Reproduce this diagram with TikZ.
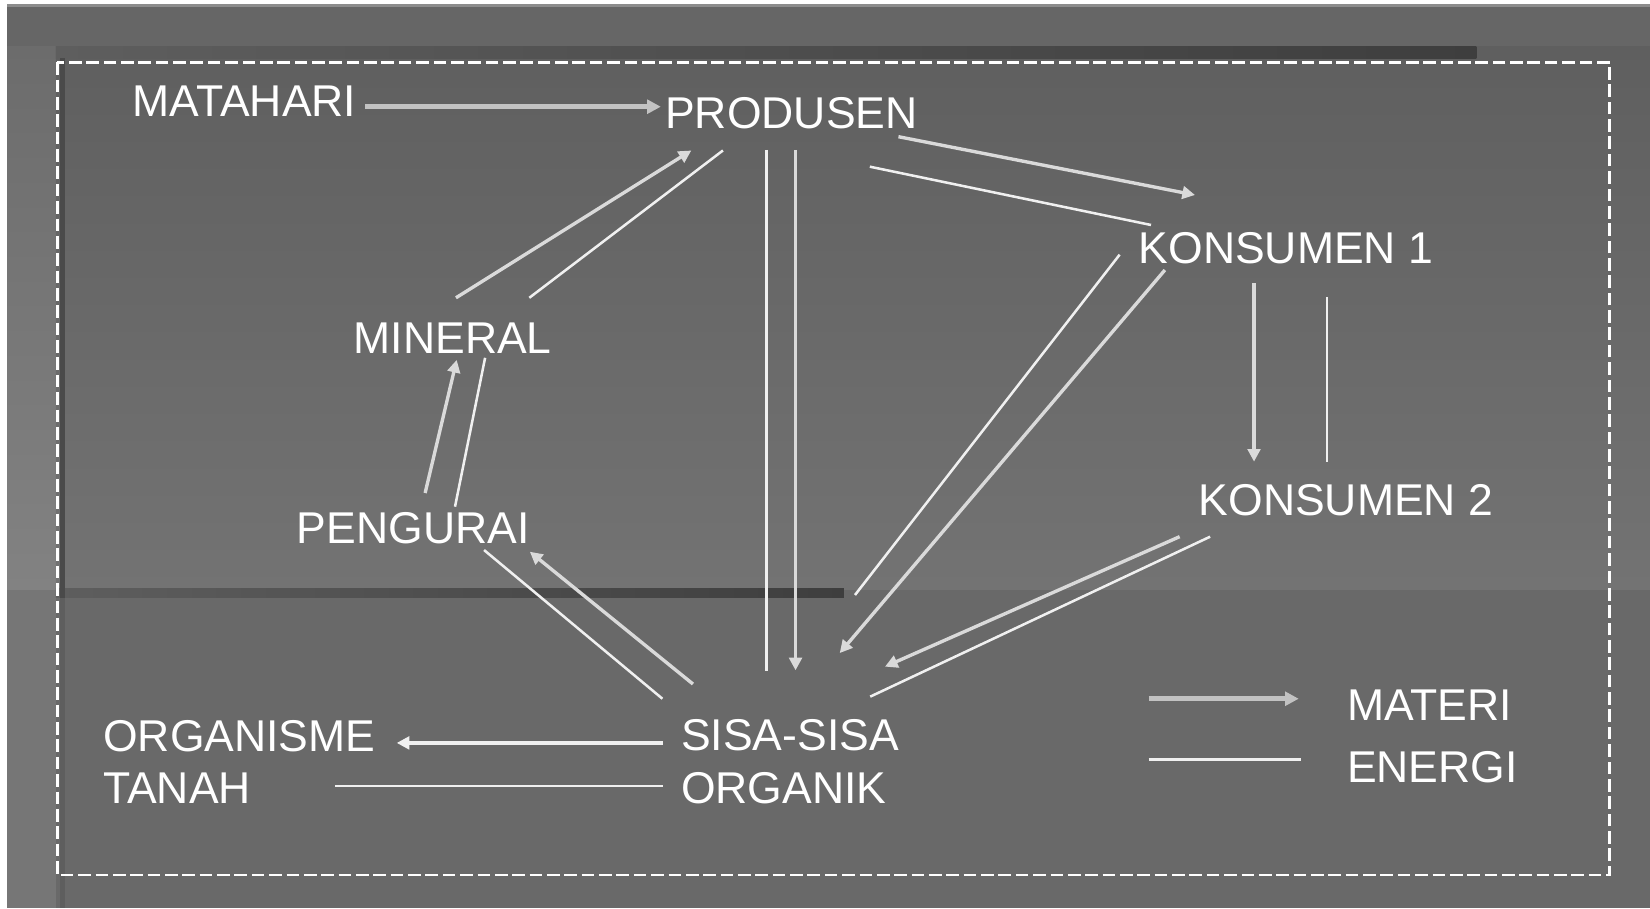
\documentclass[tikz,border=0pt]{standalone}
\usepackage{fontspec}
\setmainfont{Liberation Sans}
\usetikzlibrary{arrows.meta}
\definecolor{bgout}{HTML}{666666}
\definecolor{uptop}{HTML}{5F5F5F}
\definecolor{upbot}{HTML}{737373}
\definecolor{lowc}{HTML}{696969}
\definecolor{bandtop}{HTML}{6C6C6C}
\definecolor{bandbot}{HTML}{828282}
\definecolor{bandlow}{HTML}{767676}
\definecolor{barl}{HTML}{5E5E5E}
\definecolor{barr}{HTML}{3E3E3E}
\definecolor{vline}{HTML}{4A4A4A}
\definecolor{vlinelow}{HTML}{5E5E5E}
\definecolor{topline}{HTML}{8C8C8C}
\definecolor{matc}{HTML}{DADADA}
\definecolor{matgray}{HTML}{C2C2C2}
\definecolor{enec}{HTML}{F0F0F0}
\tikzset{
  lbl/.style={anchor=west, inner sep=0pt, text=white, font=\fontsize{42.3}{50}\selectfont},
  matline/.style={draw=matc, line width=3.2pt, -{Triangle[length=12pt,width=12pt]}},
  matthick/.style={draw=matgray, line width=4.5pt, -{Triangle[length=13pt,width=13pt]}},
  eneline/.style={draw=enec, line width=2.4pt},
}
\begin{document}
\begin{tikzpicture}[x=1pt,y=-1pt]
\useasboundingbox (0,0) rectangle (1568,863);
% background
\fill[bgout] (0,0) rectangle (1568,863);
\fill[white] (0,0) rectangle (1568,4);
\fill[topline] (0,4) rectangle (1568,7);
\fill[white] (0,0) rectangle (6.7,863);
\shade[top color=bandtop, bottom color=bandbot] (6.7,44) rectangle (53,561);
\fill[bandlow] (6.7,561) rectangle (53,863);
\shade[top color=uptop, bottom color=upbot] (53,44) rectangle (1568,561);
\fill[lowc] (53,561) rectangle (1568,863);
\shade[left color=barl, right color=barr] (53,44.4) rectangle (1403,55.4);
\shade[left color=barl, right color=barr] (53,559) rectangle (802,568);
\fill[vline] (57,55) rectangle (62,568);
\fill[vlinelow] (57,568) rectangle (62,863);
\draw[white, line width=2.5pt, dash pattern=on 12pt off 4.5pt] (54.6,59.2) rectangle (1529.5,831.5);

% labels
\node[lbl] (mat) at (126,96) {MATAHARI};
\node[lbl] (prod) at (632,108) {PRODUSEN};
\node[lbl] (kon1) at (1082,236) {KONSUMEN 1};
\node[lbl] (min) at (336,321) {MINERAL};
\node[lbl] (kon2) at (1139,475) {KONSUMEN 2};
\node[lbl] (peng) at (282,502) {PENGURAI};
\node[lbl] (org) at (98,699.5) {ORGANISME};
\node[lbl] (tan) at (98,749) {TANAH};
\node[lbl] (sisa) at (647,699) {SISA-SISA};
\node[lbl] (orgk) at (647,749) {ORGANIK};
\node[lbl] (lmat) at (1280,670) {MATERI};
\node[lbl] (lene) at (1280,728.6) {ENERGI};

% connector end points
\coordinate (m1a) at (347,101.4);   \coordinate (m1b) at (628,101.4);
\coordinate (m2a) at (433.3,283);   \coordinate (m2b) at (657,143);
\coordinate (m3a) at (756,142.5);   \coordinate (m3b) at (756,637);
\coordinate (m4a) at (853.8,129.9); \coordinate (m4b) at (1135.6,185.3);
\coordinate (m5a) at (1107,256.6);  \coordinate (m5b) at (798,620.6);
\coordinate (m6a) at (1191.7,269);  \coordinate (m6b) at (1191.7,438.7);
\coordinate (m7a) at (1121,510);    \coordinate (m7b) at (841,633.5);
\coordinate (m8a) at (658.5,650);   \coordinate (m8b) at (503.5,524.3);
\coordinate (m9a) at (404,468.5);   \coordinate (m9b) at (434,342);
\coordinate (m10a) at (630,706);    \coordinate (m10b) at (377,706);
\coordinate (lma) at (1091.6,664);  \coordinate (lmb) at (1234.2,664);

\coordinate (e1a) at (687,143);     \coordinate (e1b) at (503,283);
\coordinate (e2a) at (728.4,142.5); \coordinate (e2b) at (728.4,638);
\coordinate (e3a) at (826.6,158.4); \coordinate (e3b) at (1093.8,213.8);
\coordinate (e4a) at (1064,242);    \coordinate (e4b) at (812.5,565.4);
\coordinate (e5a) at (1261,282);    \coordinate (e5b) at (1261,439);
\coordinate (e6a) at (1150,510);    \coordinate (e6b) at (827,662);
\coordinate (e7a) at (629.5,664);   \coordinate (e7b) at (460,522.7);
\coordinate (e8a) at (432.4,481.5); \coordinate (e8b) at (461,340);
\coordinate (e9a) at (630,747);     \coordinate (e9b) at (318,747);
\coordinate (lea) at (1091.6,721.6); \coordinate (leb) at (1236,721.6);

% materi (arrows)
\draw[matthick] (m1a) -- (m1b);
\draw[matline] (m2a) -- (m2b);
\draw[matline] (m3a) -- (m3b);
\draw[matline] (m4a) -- (m4b);
\draw[matline] (m5a) -- (m5b);
\draw[matline] (m6a) -- (m6b);
\draw[matline] (m7a) -- (m7b);
\draw[matline] (m8a) -- (m8b);
\draw[matline] (m9a) -- (m9b);
\draw[matline, draw=enec, line width=3.6pt] (m10a) -- (m10b);
\draw[matthick] (lma) -- (lmb);

% energi (plain lines)
\draw[eneline] (e1a) -- (e1b);
\draw[eneline] (e2a) -- (e2b);
\draw[eneline] (e3a) -- (e3b);
\draw[eneline] (e4a) -- (e4b);
\draw[eneline] (e5a) -- (e5b);
\draw[eneline] (e6a) -- (e6b);
\draw[eneline] (e7a) -- (e7b);
\draw[eneline] (e8a) -- (e8b);
\draw[eneline] (e9a) -- (e9b);
\draw[eneline] (lea) -- (leb);
\end{tikzpicture}
\end{document}
